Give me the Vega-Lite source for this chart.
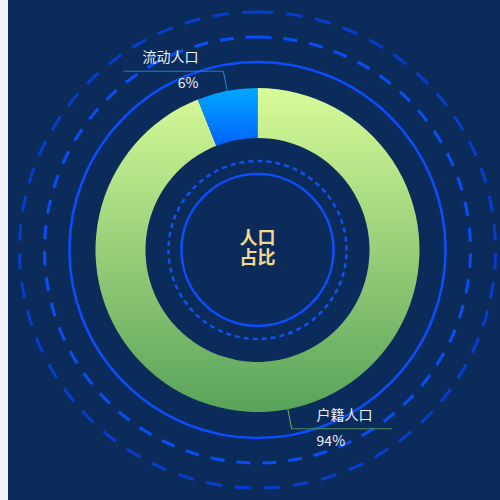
{
  "$schema": "https://vega.github.io/schema/vega-lite/v6.json",
  "width": 500,
  "height": 500,
  "autosize": {"type": "fit", "contains": "padding"},
  "padding": {"left": 8, "right": -7, "top": 0, "bottom": 0},
  "background": "#eff2f8",
  "config": {"view": {"fill": "#0b2c5b", "stroke": null}},
  "data": {
    "values": [
      {"name": "户籍人口", "pct": 94},
      {"name": "流动人口", "pct": 6}
    ]
  },
  "layer": [
    {
      "data": {"values": [{}]},
      "mark": {"type": "arc", "radius": 238, "theta": 0, "theta2": 6.2832, "filled": false, "stroke": "#083ccc", "strokeWidth": 3, "strokeDash": [16, 13]},
      "encoding": {}
    },
    {
      "data": {"values": [{}]},
      "mark": {"type": "arc", "radius": 213, "theta": 0, "theta2": 6.2832, "filled": false, "stroke": "#0a4ef2", "strokeWidth": 3, "strokeDash": [14, 12]},
      "encoding": {}
    },
    {
      "data": {"values": [{}]},
      "mark": {"type": "arc", "radius": 188, "theta": 0, "theta2": 6.2832, "filled": false, "stroke": "#0b4dff", "strokeWidth": 2.5},
      "encoding": {}
    },
    {
      "data": {"values": [{}]},
      "mark": {"type": "arc", "radius": 89, "theta": 0, "theta2": 6.2832, "filled": false, "stroke": "#1450f0", "strokeWidth": 2.5, "strokeDash": [5, 4]},
      "encoding": {}
    },
    {
      "data": {"values": [{}]},
      "mark": {"type": "arc", "radius": 76, "theta": 0, "theta2": 6.2832, "filled": false, "stroke": "#0b4dff", "strokeWidth": 2.5},
      "encoding": {}
    },
    {
      "mark": {"type": "arc", "radius": 162, "radius2": 112},
      "encoding": {
        "theta": {"field": "pct", "type": "quantitative", "stack": true},
        "order": {"field": "pct", "sort": "descending"},
        "fill": {
          "condition": {
            "test": "datum.name === '流动人口'",
            "value": {"gradient": "linear", "x1": 0, "y1": 0, "x2": 0, "y2": 1, "stops": [{"offset": 0, "color": "#00a8ff"}, {"offset": 1, "color": "#0062ff"}]}
          },
          "value": {"gradient": "linear", "x1": 0, "y1": 0, "x2": 0, "y2": 1, "stops": [{"offset": 0, "color": "#d8fb98"}, {"offset": 1, "color": "#58a35a"}]}
        }
      }
    },
    {
      "transform": [
        {"stack": "pct", "groupby": [], "sort": [{"field": "pct", "order": "descending"}], "as": ["s0", "s1"]},
        {"calculate": "PI * (datum.s0 + datum.s1) / 100", "as": "ang"},
        {"calculate": "sin(datum.ang) >= 0 ? 1 : -1", "as": "side"},
        {"calculate": "162 * sin(datum.ang)", "as": "x0"},
        {"calculate": "162 * cos(datum.ang)", "as": "y0"},
        {"calculate": "182 * sin(datum.ang)", "as": "x1"},
        {"calculate": "182 * cos(datum.ang)", "as": "y1"},
        {"calculate": "datum.x1 + datum.side * 100", "as": "x2"},
        {"calculate": "datum.x1 + datum.side * 25", "as": "tx"},
        {"calculate": "datum.y1 + 13", "as": "ty1"},
        {"calculate": "datum.y1 - 13", "as": "ty2"},
        {"calculate": "datum.pct + '%'", "as": "label"}
      ],
      "encoding": {
        "x": {"field": "x1", "type": "quantitative", "scale": {"domain": [-249.5, 249.5], "nice": false, "zero": false}, "axis": null},
        "y": {"field": "y1", "type": "quantitative", "scale": {"domain": [-250, 250], "nice": false, "zero": false}, "axis": null}
      },
      "layer": [
        {
          "mark": {"type": "rule", "strokeWidth": 1},
          "encoding": {
            "x": {"field": "x0", "type": "quantitative"},
            "y": {"field": "y0", "type": "quantitative"},
            "x2": {"field": "x1"},
            "y2": {"field": "y1"},
            "color": {"condition": {"test": "datum.name === '流动人口'", "value": "#1b86d6"}, "value": "#6fae62"}
          }
        },
        {
          "mark": {"type": "rule", "strokeWidth": 1},
          "encoding": {
            "x2": {"field": "x2"},
            "color": {"condition": {"test": "datum.name === '流动人口'", "value": "#1b7fcc"}, "value": "#4f8f5a"}
          }
        },
        {
          "mark": {"type": "text", "font": "Noto Sans CJK SC", "fontSize": 14, "color": "#eef2fa", "baseline": "middle", "align": {"expr": "datum.side > 0 ? 'left' : 'right'"}},
          "encoding": {
            "x": {"field": "tx", "type": "quantitative"},
            "y": {"field": "ty1", "type": "quantitative"},
            "text": {"field": "name"}
          }
        },
        {
          "mark": {"type": "text", "font": "Noto Sans CJK SC", "fontSize": 14, "color": "#eef2fa", "baseline": "middle", "align": {"expr": "datum.side > 0 ? 'left' : 'right'"}},
          "encoding": {
            "x": {"field": "tx", "type": "quantitative"},
            "y": {"field": "ty2", "type": "quantitative"},
            "text": {"field": "label"}
          }
        }
      ]
    },
    {
      "data": {"values": [{}]},
      "mark": {"type": "text", "text": "人口", "font": "Noto Sans CJK SC", "fontSize": 18, "fontWeight": "bold", "color": "#f5d98a", "baseline": "middle", "dy": -11},
      "encoding": {}
    },
    {
      "data": {"values": [{}]},
      "mark": {"type": "text", "text": "占比", "font": "Noto Sans CJK SC", "fontSize": 18, "fontWeight": "bold", "color": "#f5d98a", "baseline": "middle", "dy": 8.5},
      "encoding": {}
    }
  ]
}
